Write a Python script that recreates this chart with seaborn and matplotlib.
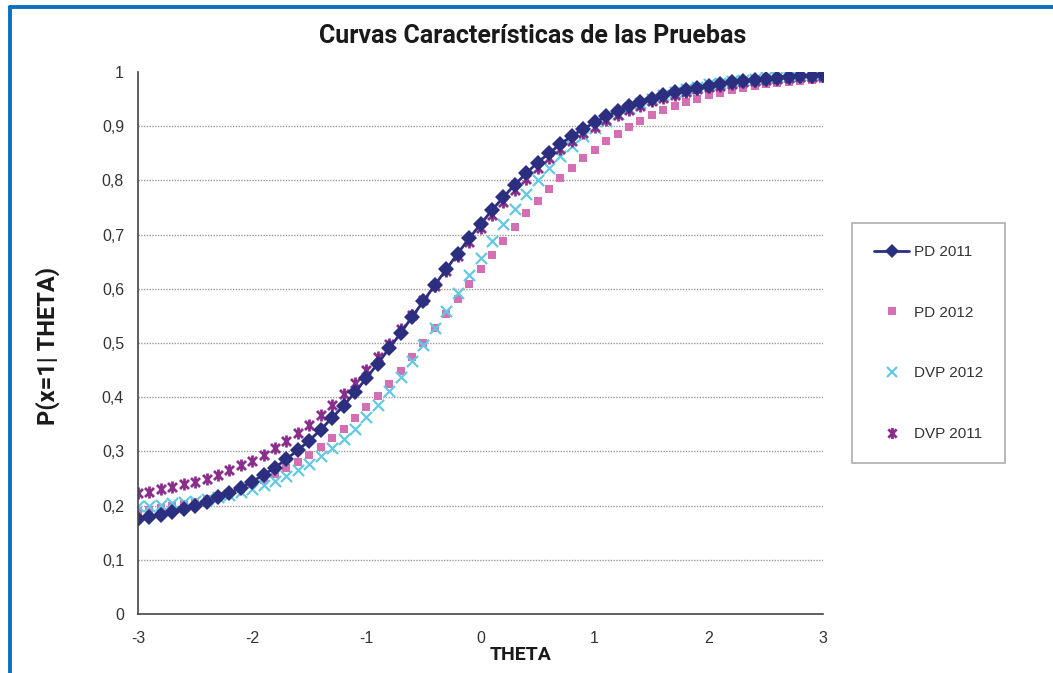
import matplotlib
matplotlib.use("Agg")
import matplotlib.pyplot as plt
from matplotlib.path import Path
from matplotlib.lines import Line2D
import seaborn as sns
import pandas as pd

theta = [-3.0, -2.9, -2.8, -2.7, -2.6, -2.5, -2.4, -2.3, -2.2, -2.1,
         -2.0, -1.9, -1.8, -1.7, -1.6, -1.5, -1.4, -1.3, -1.2, -1.1,
         -1.0, -0.9, -0.8, -0.7, -0.6, -0.5, -0.4, -0.3, -0.2, -0.1,
         0.0, 0.1, 0.2, 0.3, 0.4, 0.5, 0.6, 0.7, 0.8, 0.9,
         1.0, 1.1, 1.2, 1.3, 1.4, 1.5, 1.6, 1.7, 1.8, 1.9,
         2.0, 2.1, 2.2, 2.3, 2.4, 2.5, 2.6, 2.7, 2.8, 2.9, 3.0]

pd_2011 = [0.176, 0.179, 0.183, 0.188, 0.194, 0.200, 0.207, 0.215, 0.223, 0.233,
           0.244, 0.257, 0.270, 0.286, 0.302, 0.320, 0.340, 0.362, 0.384, 0.409,
           0.435, 0.462, 0.490, 0.518, 0.548, 0.577, 0.607, 0.636, 0.665, 0.693,
           0.719, 0.745, 0.769, 0.792, 0.813, 0.833, 0.850, 0.867, 0.882, 0.895,
           0.907, 0.918, 0.928, 0.937, 0.944, 0.951, 0.957, 0.963, 0.967, 0.971,
           0.975, 0.978, 0.981, 0.983, 0.986, 0.987, 0.989, 0.990, 0.992, 0.993, 0.994]

pd_2012 = [0.190, 0.192, 0.195, 0.199, 0.203, 0.207, 0.212, 0.218, 0.224, 0.231,
           0.239, 0.248, 0.258, 0.269, 0.281, 0.294, 0.309, 0.325, 0.342, 0.361,
           0.381, 0.402, 0.425, 0.449, 0.474, 0.500, 0.527, 0.554, 0.581, 0.609,
           0.636, 0.663, 0.689, 0.714, 0.739, 0.762, 0.784, 0.804, 0.823, 0.841,
           0.857, 0.872, 0.886, 0.898, 0.910, 0.920, 0.929, 0.937, 0.944, 0.951,
           0.957, 0.962, 0.966, 0.970, 0.974, 0.977, 0.980, 0.982, 0.984, 0.986, 0.988]

dvp_2012 = [0.199, 0.200, 0.202, 0.204, 0.206, 0.209, 0.212, 0.216, 0.220, 0.226,
            0.231, 0.238, 0.246, 0.255, 0.266, 0.277, 0.291, 0.306, 0.323, 0.342,
            0.363, 0.386, 0.411, 0.437, 0.466, 0.496, 0.527, 0.559, 0.592, 0.625,
            0.657, 0.688, 0.719, 0.747, 0.775, 0.800, 0.823, 0.845, 0.864, 0.881,
            0.897, 0.910, 0.922, 0.933, 0.942, 0.950, 0.957, 0.963, 0.969, 0.973,
            0.977, 0.980, 0.983, 0.986, 0.988, 0.990, 0.991, 0.992, 0.994, 0.995, 0.995]

dvp_2011 = [0.223, 0.226, 0.230, 0.234, 0.239, 0.244, 0.250, 0.257, 0.265, 0.274,
            0.283, 0.294, 0.306, 0.319, 0.334, 0.349, 0.367, 0.385, 0.406, 0.427,
            0.450, 0.474, 0.499, 0.525, 0.552, 0.579, 0.606, 0.633, 0.660, 0.686,
            0.712, 0.737, 0.760, 0.782, 0.803, 0.823, 0.841, 0.858, 0.873, 0.887,
            0.899, 0.911, 0.921, 0.930, 0.938, 0.946, 0.952, 0.958, 0.963, 0.968,
            0.972, 0.975, 0.978, 0.981, 0.983, 0.985, 0.987, 0.989, 0.990, 0.991, 0.993]

series_names = ["PD 2011", "PD 2012", "DVP 2012", "DVP 2011"]
x_ticks = [-3, -2, -1, 0, 1, 2, 3]
y_ticks = [0, 0.1, 0.2, 0.3, 0.4, 0.5, 0.6, 0.7, 0.8, 0.9, 1.0]
y_tick_labels = ["0", "0,1", "0,2", "0,3", "0,4", "0,5", "0,6", "0,7", "0,8", "0,9", "1"]

sns.set_theme(style="white")
plt.rcParams['font.family'] = ['Liberation Sans', 'DejaVu Sans']

df = pd.DataFrame({"theta": theta, "PD 2011": pd_2011, "PD 2012": pd_2012,
                   "DVP 2012": dvp_2012, "DVP 2011": dvp_2011})

fig = plt.figure(figsize=(10.53, 6.73), dpi=100)
ax = fig.add_axes([138/1053, 1-614/673, (823-138)/1053, (614-72)/673])

c_navy = "#2c2f80"
c_pink = "#d46fb4"
c_cyan = "#62c9e3"
c_purple = "#8a2d8c"

star = Path([(0, -1), (0, 1), (-0.75, -0.75), (0.75, 0.75), (-0.75, 0.75), (0.75, -0.75)],
            [Path.MOVETO, Path.LINETO, Path.MOVETO, Path.LINETO, Path.MOVETO, Path.LINETO])

sns.lineplot(data=df, x="theta", y="PD 2011", ax=ax, color=c_navy, linewidth=2,
             marker="D", markersize=8, markeredgewidth=0, label="PD 2011", legend=False)
sns.scatterplot(data=df, x="theta", y="PD 2012", ax=ax, color=c_pink, marker="s",
                s=36, linewidth=0, label="PD 2012", legend=False)
sns.scatterplot(data=df, x="theta", y="DVP 2012", ax=ax, color=c_cyan, marker="x",
                s=64, linewidth=1.6, label="DVP 2012", legend=False)
sns.scatterplot(data=df, x="theta", y="DVP 2011", ax=ax, color=c_purple, marker=star,
                s=75, linewidth=2.0, edgecolor=c_purple, label="DVP 2011", legend=False)

ax.set_xlim(-3, 3)
ax.set_ylim(0, 1)
ax.set_xticks(x_ticks)
ax.set_xticklabels([str(t) for t in x_ticks])
ax.set_yticks(y_ticks)
ax.set_yticklabels(y_tick_labels)
ax.tick_params(axis="both", labelsize=11.5, colors="#333333", length=4, width=1,
               direction="out", pad=6)
ax.tick_params(axis="x", pad=8)
for s in ["top", "right"]:
    ax.spines[s].set_visible(False)
for s in ["left", "bottom"]:
    ax.spines[s].set_color("#444444")
    ax.spines[s].set_linewidth(1.2)
for v in y_ticks[1:-1]:
    ax.axhline(v, color="#9a9a9a", linestyle=(0, (1, 1)), linewidth=1, zorder=0)
ax.set_xlabel("")
ax.set_ylabel("")

handles = [
    Line2D([0], [0], color=c_navy, linewidth=2, marker="D", markersize=7, markeredgewidth=0),
    Line2D([0], [0], color=c_pink, linestyle="none", marker="s", markersize=6, markeredgewidth=0),
    Line2D([0], [0], color=c_cyan, linestyle="none", marker="x", markersize=7, markeredgewidth=1.6),
    Line2D([0], [0], color=c_purple, linestyle="none", marker=star, markersize=8, markeredgewidth=2),
]
leg = fig.legend(handles, series_names, loc="upper left",
                 bbox_to_anchor=(852/1053, 1-223/673), bbox_transform=fig.transFigure,
                 frameon=True, fancybox=False, fontsize=11, labelspacing=3.05,
                 borderpad=1.45, handlelength=2.3, handletextpad=0.3,
                 borderaxespad=0)
leg.get_frame().set_edgecolor("#999999")
leg.get_frame().set_linewidth(1.2)
for t in leg.get_texts():
    t.set_color("#333333")

fig.text(533/1053, 1-36/673, "Curvas Características de las Pruebas",
         ha="center", va="center", fontsize=18, fontweight="bold",
         family=["Roboto", "DejaVu Sans"], color="#1a1a1a")
fig.text(48/1053, 1-346/673, "P(x=1| THETA)", rotation=90, ha="center", va="center",
         fontsize=17, fontweight="bold", family=["Roboto", "DejaVu Sans"], color="#1a1a1a")
fig.text(521/1053, 1-655/673, "THETA", ha="center", va="center",
         fontsize=14, fontweight="bold", family=["Roboto", "DejaVu Sans"], color="#1a1a1a")

# blue frame lines
fig.add_artist(Line2D([9.5/1053, 1], [1-7/673, 1-7/673], transform=fig.transFigure,
                      color="#0a70c0", linewidth=2.8))
fig.add_artist(Line2D([9.5/1053, 9.5/1053], [0, 1-7/673], transform=fig.transFigure,
                      color="#0a70c0", linewidth=2.8))

fig.savefig("out.png", dpi=100)
